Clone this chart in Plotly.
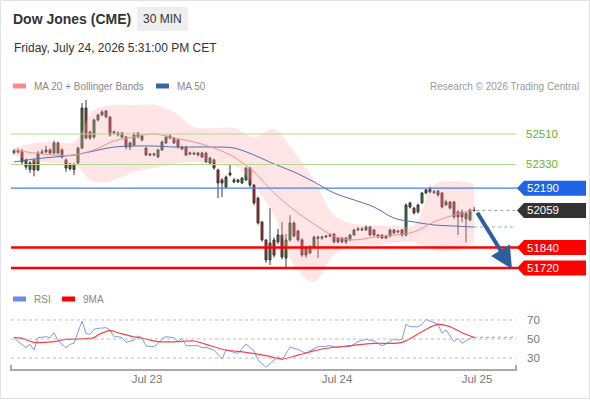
import plotly.graph_objects as go

# 30 min candles, Dow Jones (CME)
opens = [52400, 52410, 52410, 52357, 52300, 52357, 52298, 52398, 52404, 52416,
         52398, 52457, 52416, 52357, 52304, 52330, 52339, 52427, 52663, 52522,
         52492, 52593, 52622, 52646, 52610, 52516, 52516, 52516, 52492, 52433,
         52445, 52516, 52500, 52427, 52392, 52386, 52374, 52416, 52457, 52498,
         52486, 52475, 52433, 52433, 52392, 52398, 52398, 52398, 52398, 52339,
         52357, 52298, 52239, 52197, 52280, 52239, 52227, 52221, 52239, 52309,
         52209, 52132, 51991, 51885, 51767, 51885, 51873, 51914, 51778, 51885,
         51985, 51938, 51885, 51843, 51808, 51843, 51902, 51896, 51902, 51908,
         51920, 51896, 51873, 51896, 51885, 51914, 51944, 51950, 51944, 51961,
         51944, 51914, 51914, 51896, 51908, 51944, 51938, 51944, 51914, 52103,
         52073, 52050, 52103, 52162, 52185, 52170, 52174, 52162, 52091, 52109,
         52109, 52050, 52050, 52010, 52003, 52062]
closes = [52410, 52404, 52345, 52315, 52339, 52298, 52398, 52404, 52416, 52398,
          52457, 52398, 52374, 52309, 52333, 52300, 52427, 52663, 52486, 52486,
          52593, 52622, 52640, 52610, 52504, 52522, 52504, 52492, 52433, 52457,
          52504, 52492, 52475, 52386, 52386, 52392, 52416, 52463, 52492, 52486,
          52457, 52433, 52421, 52386, 52398, 52392, 52386, 52374, 52345, 52368,
          52309, 52221, 52221, 52256, 52268, 52227, 52239, 52250, 52309, 52209,
          52103, 51985, 51885, 51767, 51867, 51796, 51914, 51784, 51885, 51985,
          51908, 51885, 51796, 51796, 51843, 51902, 51896, 51902, 51908, 51914,
          51873, 51873, 51896, 51873, 51914, 51944, 51950, 51944, 51961, 51914,
          51914, 51902, 51896, 51908, 51944, 51926, 51932, 51914, 52091, 52079,
          52044, 52091, 52162, 52180, 52168, 52165, 52150, 52079, 52109, 52073,
          52020, 52020, 52020, 52040, 52062, 52059]
highs = [52420, 52425, 52420, 52365, 52350, 52365, 52410, 52420, 52440, 52425,
         52470, 52465, 52425, 52365, 52340, 52340, 52435, 52693, 52711, 52530,
         52600, 52630, 52650, 52652, 52615, 52530, 52525, 52522, 52498, 52465,
         52520, 52522, 52510, 52435, 52398, 52400, 52422, 52470, 52505, 52510,
         52492, 52480, 52440, 52440, 52405, 52405, 52405, 52405, 52405, 52375,
         52365, 52305, 52250, 52265, 52327, 52250, 52245, 52255, 52315, 52315,
         52215, 52140, 51995, 51890, 52073, 51900, 51950, 51990, 51920, 52030,
         51995, 51945, 51895, 51850, 51855, 51910, 51910, 51910, 51915, 51925,
         51925, 51902, 51902, 51902, 51920, 51950, 51960, 51960, 51970, 51967,
         51950, 51920, 51920, 51915, 51950, 51950, 51945, 51950, 52100, 52110,
         52080, 52100, 52168, 52188, 52200, 52180, 52180, 52168, 52121, 52115,
         52115, 52060, 52065, 52050, 52070, 52080]
lows = [52390, 52395, 52330, 52300, 52280, 52260, 52290, 52390, 52395, 52390,
        52390, 52390, 52365, 52286, 52295, 52268, 52330, 52420, 52480, 52475,
        52480, 52585, 52615, 52604, 52495, 52505, 52495, 52485, 52420, 52415,
        52440, 52485, 52465, 52380, 52378, 52378, 52368, 52410, 52450, 52480,
        52450, 52425, 52415, 52380, 52385, 52385, 52378, 52368, 52339, 52330,
        52300, 52132, 52138, 52190, 52260, 52220, 52220, 52215, 52232, 52195,
        52090, 51975, 51875, 51750, 51737, 51780, 51860, 51770, 51725, 51875,
        51900, 51875, 51785, 51780, 51800, 51835, 51778, 51885, 51895, 51900,
        51865, 51865, 51865, 51860, 51878, 51908, 51938, 51938, 51938, 51908,
        51908, 51896, 51890, 51890, 51900, 51920, 51926, 51905, 51905, 52070,
        52035, 52040, 52098, 52155, 52160, 52155, 52140, 52070, 52085, 52065,
        52010, 51914, 51990, 51870, 51995, 52050]
bars = list(range(len(closes)))

# indicator readings, every 5th bar
ind_idx = list(range(0, 116, 5))
bb_upper = [52427, 52457, 52463, 52463, 52652, 52681, 52681, 52681, 52640, 52551,
            52545, 52545, 52492, 52540, 52404, 52239, 52032, 51979, 51973, 51967,
            51973, 52209, 52233, 52215]
bb_lower = [52386, 52345, 52339, 52327, 52227, 52239, 52286, 52309, 52333, 52345,
            52339, 52327, 52209, 52032, 51737, 51637, 51796, 51855, 51855, 51867,
            51873, 51826, 51820, 51873]
ma20 = [52416, 52398, 52386, 52386, 52416, 52469, 52492, 52510, 52486, 52463,
        52427, 52374, 52286, 52162, 52062, 51979, 51908, 51885, 51902, 51914,
        51932, 51991, 52032, 52062]
ma50 = [52345, 52362, 52374, 52386, 52410, 52433, 52439, 52439, 52433, 52433,
        52433, 52427, 52386, 52333, 52286, 52227, 52162, 52121, 52079, 52014,
        51991, 51973, 51967, 51961]

rsi_idx = [0, 1, 3, 4, 5, 6, 8, 9, 10, 11, 13, 14, 15, 17, 18, 19, 20, 21, 23, 24,
           25, 26, 27, 28, 30, 31, 32, 33, 35, 36, 37, 38, 40, 41, 42, 43, 46, 47, 48, 50,
           52, 53, 55, 56, 58, 60, 61, 63, 65, 66, 67, 69, 70, 71, 73, 74, 76, 77, 79, 81,
           82, 84, 86, 88, 90, 92, 93, 95, 96, 97, 98, 99, 101, 102, 103, 104, 106, 107, 108, 110,
           111, 112, 114, 115]
rsi = [51.8, 47.2, 41.2, 44.4, 38.4, 51.4, 52.4, 51.4, 56.6, 47.9, 40.9, 44.4, 45.4, 68.9, 56.0, 54.9, 60.2, 61.2, 61.9, 59.5,
       52.4, 52.4, 51.4, 46.5, 48.9, 53.2, 51.4, 42.6, 41.9, 45.4, 50.7, 52.4, 51.4, 47.2, 50.7, 43.0, 43.0, 40.9, 41.2, 38.4,
       28.9, 38.4, 36.0, 34.9, 44.7, 37.4, 27.9, 20.2, 27.9, 31.4, 27.9, 41.5, 40.2, 39.0, 34.9, 37.7, 41.9, 41.9, 43.0, 40.9,
       41.9, 41.9, 47.2, 49.6, 47.9, 43.0, 44.7, 50.0, 48.9, 49.6, 65.4, 62.9, 62.9, 65.4, 70.7, 68.9, 65.4, 56.0, 59.5, 47.2,
       50.7, 45.4, 50.7, 51.8]
ma9_idx = [0, 2, 5, 10, 13, 16, 20, 21, 24, 26, 30, 33, 36, 41, 45, 48, 53, 58, 63, 67,
           71, 74, 77, 84, 90, 97, 102, 106, 109, 112, 115]
rsi_ma9 = [51.8, 50.7, 46.5, 47.2, 49.6, 50.0, 51.4, 54.2, 58.8, 56.6, 52.4, 50.0, 47.2, 47.2, 47.9, 44.4, 38.4, 36.0, 32.5, 29.0,
           33.0, 36.5, 39.5, 43.0, 45.4, 46.5, 57.7, 65.4, 62.9, 56.6, 51.8]

resistances = [52510, 52330]
pivot = 52190
supports = [51840, 51720]
last_price = 52059
target = 51714
rsi_levels = [70, 50, 30]
date_ticks = [33.25, 80.75, 115.75]
date_labels = ["Jul 23", "Jul 24", "Jul 25"]

FONT = "Liberation Sans, Arial, sans-serif"
L, R, T, B = 11, 516, 95, 370


def px(x):
    return (x - L) / (R - L)


def py(y):
    return (B - y) / (B - T)


fig = go.Figure()

fig.add_trace(go.Scatter(x=ind_idx, y=bb_upper, mode="lines", line=dict(width=0, shape="spline"),
                         hoverinfo="skip"))
fig.add_trace(go.Scatter(x=ind_idx, y=bb_lower, mode="lines", line=dict(width=0, shape="spline"),
                         fill="tonexty", fillcolor="rgba(255,170,170,0.3)", hoverinfo="skip"))
fig.add_trace(go.Scatter(x=ind_idx, y=ma50, mode="lines", line=dict(color="#5470b0", width=1, shape="spline")))
fig.add_trace(go.Scatter(x=ind_idx, y=ma20, mode="lines", line=dict(color="#f59090", width=1, shape="spline")))
fig.add_trace(go.Scatter(x=[ind_idx[-1], 124.7], y=[ma50[-1], ma50[-1]], mode="lines",
                         line=dict(color="#8ea4d4", width=1, dash="dot")))

fig.add_trace(go.Candlestick(
    x=bars, open=opens, high=highs, low=lows, close=closes,
    increasing=dict(fillcolor="#1f8a1f", line=dict(color="#3a3a3a", width=1)),
    decreasing=dict(fillcolor="#e01010", line=dict(color="#3a3a3a", width=1)),
    whiskerwidth=0, hoverinfo="skip"))

fig.add_trace(go.Scatter(x=rsi_idx, y=rsi, mode="lines", line=dict(color="#7f9ae8", width=1),
                         xaxis="x2", yaxis="y2"))
fig.add_trace(go.Scatter(x=ma9_idx, y=rsi_ma9, mode="lines", line=dict(color="#f04545", width=1.2, shape="spline"),
                         xaxis="x2", yaxis="y2"))
fig.add_trace(go.Scatter(x=[rsi_idx[-1], 125.5], y=[rsi[-1], rsi[-1]], mode="lines",
                         line=dict(color="#8ea4d4", width=1, dash="dot"), xaxis="x2", yaxis="y2"))

shapes = []
ann = []


def text(x, y, s, color, size, anchor="left", bold=False):
    ann.append(dict(xref="paper", yref="paper", x=px(x), y=py(y), text=f"<b>{s}</b>" if bold else s,
                    showarrow=False, xanchor=anchor, yanchor="middle",
                    font=dict(color=color, size=size, family=FONT)))


# horizontal levels
for lv in resistances:
    shapes.append(dict(type="line", xref="paper", yref="y", x0=0, x1=1, y0=lv, y1=lv,
                       line=dict(color="#b5da8f", width=1.2)))
    ann.append(dict(xref="paper", yref="y", x=px(524), y=lv, text=str(lv), showarrow=False,
                    xanchor="left", yanchor="middle", font=dict(color="#6fae2e", size=11.5, family=FONT)))
shapes.append(dict(type="line", xref="paper", yref="y", x0=0, x1=px(518), y0=pivot, y1=pivot,
                   line=dict(color="#4a7de8", width=1.3)))
for lv in supports:
    shapes.append(dict(type="line", xref="paper", yref="y", x0=0, x1=px(518), y0=lv, y1=lv,
                       line=dict(color="#ff0000", width=2.5)))
shapes.append(dict(type="line", xref="x", yref="y", x0=115.6, x1=125.3, y0=last_price, y1=last_price,
                   line=dict(color="#999999", width=1, dash="dot")))

# price label boxes
half = 7.5 * 5.9
for lv, col in [(pivot, "#1f63e6"), (last_price, "#333333"), (supports[0], "#ff0000"), (supports[1], "#ff0000")]:
    xt, xb, xr = px(517), px(524), px(586)
    path = f"M {xt},{lv} L {xb},{lv + half} L {xr},{lv + half} L {xr},{lv - half} L {xb},{lv - half} Z"
    shapes.append(dict(type="path", xref="paper", yref="y", path=path, fillcolor=col, line=dict(width=0)))
    ann.append(dict(xref="paper", yref="y", x=px(525), y=lv, text=str(lv), showarrow=False,
                    xanchor="left", yanchor="middle", font=dict(color="white", size=11.5, family=FONT)))

# forecast arrow
ann.append(dict(xref="x", yref="y", axref="x", ayref="y", x=124.5, y=target, ax=115.6, ay=last_price - 5,
                text="", showarrow=True, arrowhead=2, arrowsize=1.1, arrowwidth=4, arrowcolor="#2c5f9c"))

# rsi grid + labels
for lv in rsi_levels:
    shapes.append(dict(type="line", xref="paper", yref="y2", x0=0, x1=1, y0=lv, y1=lv,
                       line=dict(color="#bbbbbb", width=1, dash="dot")))
    ann.append(dict(xref="paper", yref="y2", x=px(525), y=lv, text=str(lv), showarrow=False,
                    xanchor="left", yanchor="middle", font=dict(color="#777777", size=11.5, family=FONT)))

# bottom axis line with end ticks
shapes.append(dict(type="path", xref="paper", yref="paper",
                   path=f"M 0,{py(365)} L 0,0 L 1,0 L 1,{py(365)}",
                   line=dict(color="#aaaaaa", width=2)))

# header
shapes.append(dict(type="rect", xref="paper", yref="paper", x0=px(137), x1=px(188), y0=py(31), y1=py(7),
                   fillcolor="#eeeeee", line=dict(width=0), layer="below"))
shapes.append(dict(type="rect", xref="paper", yref="paper", x0=px(0.5), x1=px(589.5), y0=py(398.5), y1=py(0.5),
                   line=dict(color="#e2e2e2", width=1)))
text(11, 19, "Dow Jones (CME)", "#333333", 14, bold=True)
text(162.5, 19, "30 MIN", "#333333", 12, anchor="center")
text(12, 48, "Friday, July 24, 2026 5:31:00 PM CET", "#333333", 12)

# legends
for x0, col, label, y in [(13, "#ff8a8a", "MA 20 + Bollinger Bands", 86), (156, "#3a64a8", "MA 50", 86),
                          (13, "#6b8de3", "RSI", 299), (62, "#ff0000", "9MA", 299)]:
    shapes.append(dict(type="rect", xref="paper", yref="paper", x0=px(x0), x1=px(x0 + 13), y0=py(y + 2.5), y1=py(y - 2.5),
                       fillcolor=col, line=dict(width=0)))
    text(x0 + 19, y, label, "#888888", 10)
text(581, 86, "Research © 2026 Trading Central", "#999999", 10, anchor="right")

fig.update_layout(
    width=590, height=400,
    margin=dict(l=L, r=590 - R, t=T, b=400 - B, autoexpand=False),
    paper_bgcolor="white", plot_bgcolor="white",
    showlegend=False,
    xaxis=dict(domain=[0, 1], range=[-0.75, 125.5], anchor="y", showticklabels=False, showgrid=False,
               zeroline=False, rangeslider=dict(visible=False)),
    xaxis2=dict(domain=[0, 1], range=[-0.75, 125.5], anchor="y2", showgrid=False, zeroline=False,
                tickvals=date_ticks, ticktext=date_labels, ticks="",
                tickfont=dict(color="#777777", size=11.5, family=FONT)),
    yaxis=dict(domain=[py(285), 1], range=[51619, 52740], showticklabels=False, showgrid=False, zeroline=False),
    yaxis2=dict(domain=[0, py(310)], range=[17.4, 80.5], showticklabels=False, showgrid=False, zeroline=False),
    shapes=shapes, annotations=ann,
)

fig.write_html("out.html", config={"displayModeBar": False},
               post_script="document.body.style.margin='0px';")
